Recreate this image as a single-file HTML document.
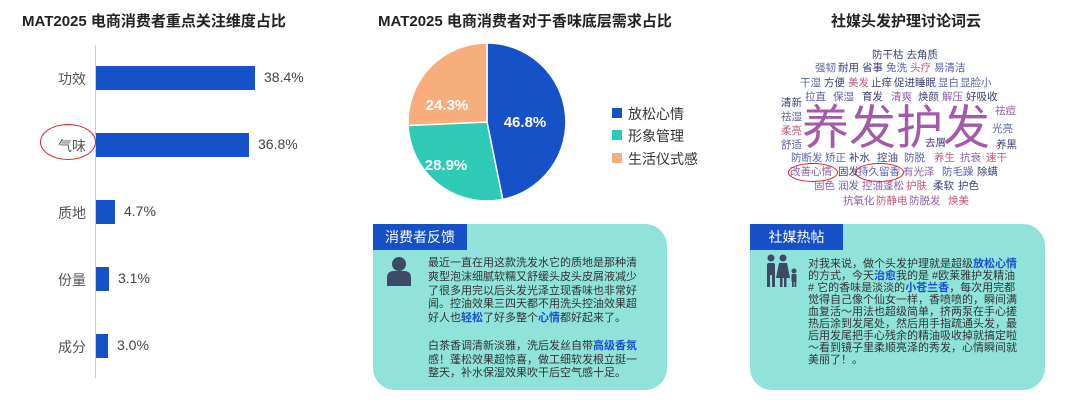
<!DOCTYPE html>
<html><head><meta charset="utf-8"><style>
body{margin:0;width:1080px;height:400px;background:#fff;position:relative;overflow:hidden;font-family:"Liberation Sans","Noto Sans CJK SC",sans-serif;}
.a{position:absolute;white-space:nowrap;}
.t{font-weight:bold;font-size:15px;color:#222;}
.lab{font-size:14px;color:#555;width:70px;text-align:right;left:16px;}
.bar{position:absolute;left:96px;height:24px;background:#1552c8;}
.val{font-size:14px;color:#444;}
.box{position:absolute;background:#8fe3d9;border-radius:22px;}
.hd{position:absolute;background:#1550c6;color:#fff;font-size:14px;text-align:center;line-height:26px;}
.txt{position:absolute;font-size:11px;color:#333;}
.hl{color:#1a4fd0;font-weight:bold;}
.w{position:absolute;white-space:nowrap;font-size:10.5px;line-height:12px;}
.n{color:#3b3f74}.b{color:#5b5fae}.p{color:#c4577d}.u{color:#8d5fa8}
</style></head><body>
<div class="a t" style="left:22px;top:10px">MAT2025 电商消费者重点关注维度占比</div>
<div style="position:absolute;left:95px;top:45px;width:1px;height:333px;background:#ccc"></div>
<div class="bar" style="top:66px;width:159px"></div><div class="a val" style="left:264px;top:69px">38.4%</div><div class="a lab" style="top:69px">功效</div>
<div class="bar" style="top:133px;width:153px"></div><div class="a val" style="left:258px;top:136px">36.8%</div><div class="a lab" style="top:136px">气味</div>
<div class="bar" style="top:200px;width:19px"></div><div class="a val" style="left:124px;top:203px">4.7%</div><div class="a lab" style="top:203px">质地</div>
<div class="bar" style="top:267px;width:13px"></div><div class="a val" style="left:118px;top:270px">3.1%</div><div class="a lab" style="top:270px">份量</div>
<div class="bar" style="top:334px;width:12px"></div><div class="a val" style="left:117px;top:337px">3.0%</div><div class="a lab" style="top:337px">成分</div>
<div style="position:absolute;left:40px;top:124px;width:54px;height:34px;border:1.5px solid #e02020;border-radius:50%"></div>

<div class="a t" style="left:378px;top:10px">MAT2025 电商消费者对于香味底层需求占比</div>
<svg style="position:absolute;left:0;top:0" width="1080" height="400">
<g transform="translate(487,122)">
<path d="M0,0 L0,-79 A79,79 0 0 1 15.7,77.4 Z" fill="#1552c8" stroke="#fff" stroke-width="1.5"/>
<path d="M0,0 L15.7,77.4 A79,79 0 0 1 -78.9,3.5 Z" fill="#2ecab6" stroke="#fff" stroke-width="1.5"/>
<path d="M0,0 L-78.9,3.5 A79,79 0 0 1 0,-79 Z" fill="#f7ae7c" stroke="#fff" stroke-width="1.5"/>
<text x="38" y="5" fill="#fff" font-size="15" font-weight="bold" text-anchor="middle" font-family="Liberation Sans">46.8%</text>
<text x="-41" y="48" fill="#fff" font-size="15" font-weight="bold" text-anchor="middle" font-family="Liberation Sans">28.9%</text>
<text x="-40" y="-12" fill="#fff" font-size="15" font-weight="bold" text-anchor="middle" font-family="Liberation Sans">24.3%</text>
</g>
<rect x="612" y="108" width="10" height="10" fill="#1552c8"/>
<rect x="612" y="130" width="10" height="10" fill="#2ecab6"/>
<rect x="612" y="153" width="10" height="10" fill="#f7ae7c"/>
</svg>
<div class="a" style="left:628px;top:104px;font-size:14px;color:#333">放松心情</div>
<div class="a" style="left:628px;top:126px;font-size:14px;color:#333">形象管理</div>
<div class="a" style="left:628px;top:149px;font-size:14px;color:#333">生活仪式感</div>

<div class="box" style="left:373px;top:224px;width:294px;height:166px"></div>
<div class="hd" style="left:373px;top:224px;width:94px">消费者反馈</div>
<svg style="position:absolute;left:386px;top:256px" width="26" height="30"><circle cx="13" cy="8" r="7" fill="#3c4a66"/><path d="M1,30 L1,22 Q1,15 8,15 L18,15 Q25,15 25,22 L25,30 Z" fill="#3c4a66"/></svg>
<div class="txt" style="left:428px;top:257px;width:212px;line-height:13.8px">最近一直在用这款洗发水它的质地是那种清爽型泡沫细腻软糯又舒缓头皮头皮屑液减少了很多用完以后头发光泽立现香味也非常好闻。控油效果三四天都不用洗头控油效果超好人也<span class="hl">轻松</span>了好多整个<span class="hl">心情</span>都好起来了。<br><br>白茶香调清新淡雅，洗后发丝自带<span class="hl">高级香氛</span>感！蓬松效果超惊喜，做工细软发根立挺一整天，补水保湿效果吹干后空气感十足。</div>

<div class="a t" style="left:831px;top:10px">社媒头发护理讨论词云</div>
<div class="w n" style="left:872px;top:49px">防干枯 去角质</div>
<div class="w b" style="left:815px;top:62px">强韧</div><div class="w n" style="left:838px;top:62px">耐用</div><div class="w n" style="left:862px;top:62px">省事</div><div class="w b" style="left:886px;top:62px">免洗</div><div class="w p" style="left:910px;top:62px">头疗</div><div class="w b" style="left:934px;top:62px">易清洁</div>
<div class="w b" style="left:800px;top:77px">干湿</div><div class="w n" style="left:824px;top:77px">方便</div><div class="w p" style="left:848px;top:77px">美发</div><div class="w n" style="left:871px;top:77px">止痒</div><div class="w n" style="left:894px;top:77px">促进睡眠</div><div class="w b" style="left:938px;top:77px">显白</div><div class="w b" style="left:960px;top:77px">显脸小</div>
<div class="w b" style="left:805px;top:91px">拉直</div><div class="w b" style="left:833px;top:91px">保湿</div><div class="w n" style="left:862px;top:91px">育发</div><div class="w u" style="left:891px;top:91px">清爽</div><div class="w n" style="left:918px;top:91px">焕颜</div><div class="w u" style="left:942px;top:91px">解压</div><div class="w n" style="left:966px;top:91px">好吸收</div>
<div class="w n" style="left:781px;top:97px">清新</div><div class="w b" style="left:781px;top:111px">祛湿</div><div class="w p" style="left:781px;top:125px">柔亮</div><div class="w b" style="left:781px;top:139px">舒适</div>
<div class="w u" style="left:995px;top:105px">祛痘</div><div class="w b" style="left:992px;top:123px">光亮</div><div class="w n" style="left:996px;top:139px">养黑</div>
<div class="w" style="left:802px;top:101px;font-size:47px;line-height:54px;color:#a35ba9">养发护发</div>
<div class="w n" style="left:925px;top:137px">去屑</div>
<div class="w b" style="left:791px;top:152px">防断发</div><div class="w b" style="left:825px;top:152px">矫正</div><div class="w n" style="left:849px;top:152px">补水</div><div class="w n" style="left:877px;top:152px">控油</div><div class="w b" style="left:904px;top:152px">防脱</div><div class="w p" style="left:934px;top:152px">养生</div><div class="w u" style="left:960px;top:152px">抗衰</div><div class="w p" style="left:986px;top:152px">速干</div>
<div class="w u" style="left:790px;top:166px">改善心情</div><div class="w n" style="left:838px;top:166px">固发</div><div class="w b" style="left:858px;top:166px">持久留香</div><div class="w u" style="left:903px;top:166px">有光泽</div><div class="w b" style="left:942px;top:166px">防毛躁</div><div class="w n" style="left:977px;top:166px">除螨</div>
<div class="w u" style="left:814px;top:180px">固色</div><div class="w b" style="left:838px;top:180px">润发</div><div class="w u" style="left:862px;top:180px">控油蓬松</div><div class="w p" style="left:906px;top:180px">护肤</div><div class="w n" style="left:933px;top:180px">柔软</div><div class="w n" style="left:958px;top:180px">护色</div>
<div class="w u" style="left:843px;top:195px">抗氧化</div><div class="w p" style="left:876px;top:195px">防静电</div><div class="w u" style="left:909px;top:195px">防脱发</div><div class="w p" style="left:948px;top:195px">焕美</div>
<div style="position:absolute;left:788px;top:163px;width:48px;height:17px;border:1.5px solid #e02020;border-radius:50%"></div>
<div style="position:absolute;left:855px;top:163px;width:47px;height:17px;border:1.5px solid #e02020;border-radius:50%"></div>

<div class="box" style="left:750px;top:224px;width:295px;height:166px"></div>
<div class="hd" style="left:750px;top:224px;width:93px">社媒热帖</div>
<svg style="position:absolute;left:764px;top:254px" width="36" height="34" fill="#3c4a66"><circle cx="7" cy="4" r="3.5"/><rect x="3" y="9" width="8" height="12" rx="2"/><rect x="3" y="20" width="3" height="13"/><rect x="8" y="20" width="3" height="13"/><circle cx="19" cy="4" r="3.5"/><path d="M15,9 L23,9 L26,24 L12,24 Z"/><rect x="16" y="23" width="2.5" height="10"/><rect x="20" y="23" width="2.5" height="10"/><circle cx="30" cy="17" r="2.5"/><rect x="27.5" y="20" width="5" height="8" rx="1"/><rect x="28" y="27" width="1.8" height="6"/><rect x="30.5" y="27" width="1.8" height="6"/></svg>
<div class="txt" style="left:808px;top:258px;width:212px;line-height:12px">对我来说，做个头发护理就是超级<span class="hl">放松心情</span>的方式，今天<span class="hl">治愈</span>我的是 #欧莱雅护发精油# 它的香味是淡淡的<span class="hl">小苍兰香</span>，每次用完都觉得自己像个仙女一样，香喷喷的，瞬间满血复活～用法也超级简单，挤两泵在手心搓热后涂到发尾处，然后用手指疏通头发，最后用发尾把手心残余的精油吸收掉就搞定啦～看到镜子里柔顺亮泽的秀发，心情瞬间就美丽了！。</div>
</body></html>
